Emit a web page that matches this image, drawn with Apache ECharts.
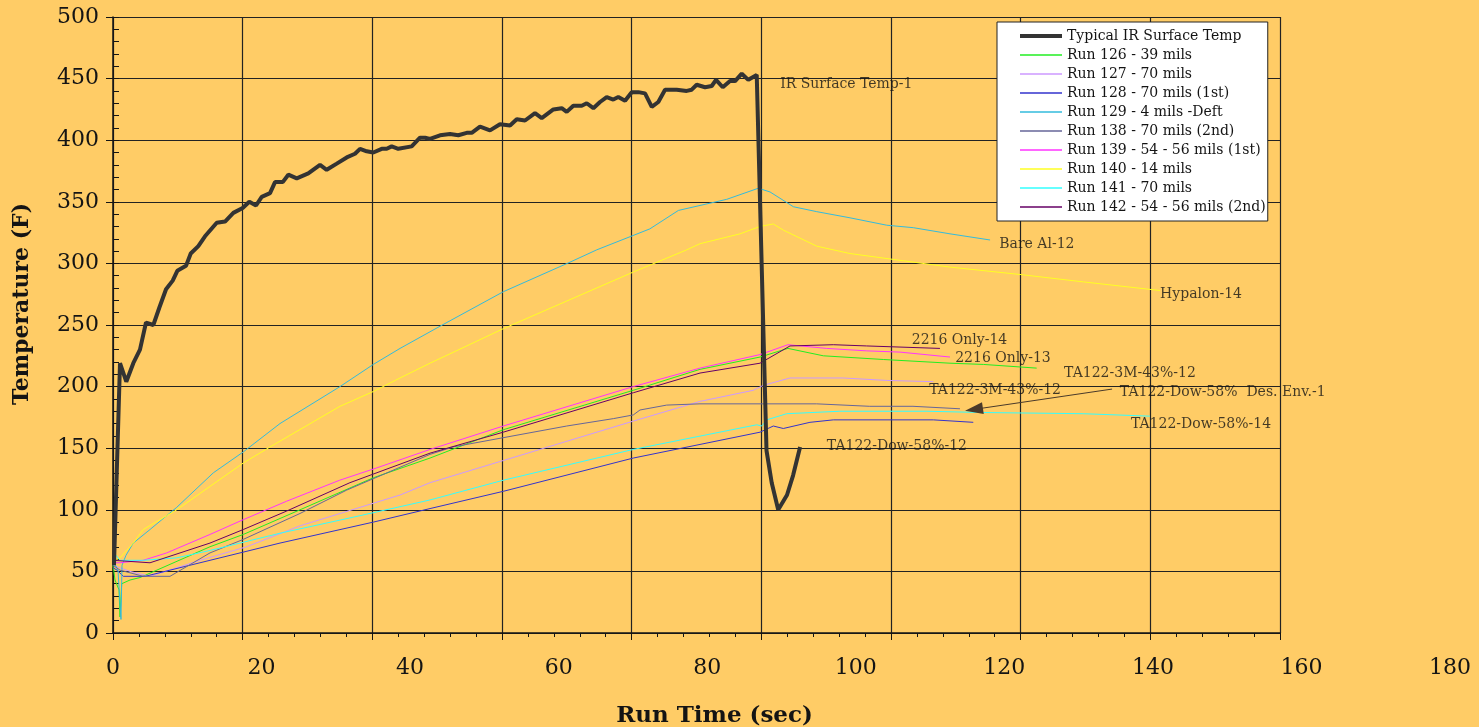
<!DOCTYPE html>
<html>
<head>
<meta charset="utf-8">
<script src="https://cdn.jsdelivr.net/npm/echarts@6/dist/echarts.min.js"></script>
<style>
  html, body { margin: 0; padding: 0; background: #ffcc66; }
  #chart { width: 1479px; height: 727px; }
</style>
</head>
<body>
<div id="chart"></div>
<script>
// [run time (sec), temperature (F)]
const irTemp = [[0.15,55],[1.08,219],[2.05,204],[3.13,219],[4.16,230],[5.09,252],[6.22,250],[7.14,264],[8.18,279],[9.21,286],[9.92,294],[11.26,298],[11.99,308],[13.16,314],[14.19,322],[16.0,333],[17.28,334],[18.56,341],[20.0,345],[21.02,350],[22.06,347],[22.94,354],[24.22,357],[24.99,366],[26.18,366],[27.04,372],[28.34,369],[30.12,373],[31.93,380],[32.96,376],[34.51,381],[36.05,386],[37.33,389],[38.1,393],[39.13,391],[40.15,390],[41.45,393],[42.22,393],[42.99,395],[44.0,393],[46.07,395],[47.35,402],[48.13,402],[48.9,401],[50.44,404],[51.98,405],[53.26,404],[54.56,406],[55.33,406],[56.61,411],[58.15,408],[59.69,413],[61.24,412],[62.27,417],[63.55,416],[65.09,422],[66.13,418],[67.92,425],[69.21,426],[69.98,423],[71.0,428],[72.3,428],[73.07,430],[74.09,426],[75.12,431],[76.15,435],[77.17,433],[77.94,435],[78.98,432],[80.01,439],[81.03,439],[82.06,438],[83.1,427],[84.11,431],[85.15,441],[86.95,441],[88.49,440],[89.26,441],[90.03,445],[91.32,443],[92.35,444],[93.01,449],[94.05,443],[95.17,448],[95.95,448],[96.98,454],[97.99,449],[99.29,453],[100.8,148],[101.6,122],[102.6,100],[103.96,112],[104.9,128],[105.98,151]];
const run126 = [[0,55],[0.31,43],[0.93,35],[1.08,13],[1.34,40],[2.62,43],[4.16,45],[14.96,70],[20.1,80],[28.84,100],[40.15,126],[48.9,142],[60.2,165],[80.25,197],[90.54,214],[99.8,224],[104.11,231],[109.56,225],[118.81,222],[129.1,219],[134.24,218],[142.47,215]];
const run127 = [[0,55],[2.62,50],[5.71,46],[13.42,59],[20.62,70],[28.84,87],[44.27,112],[48.9,122],[60.2,140],[80.25,172],[87.96,184],[90.54,188],[98.76,197],[100.3,201],[104.42,207],[112.64,207],[119.34,205],[126.53,204]];
const run128 = [[0,53],[0.62,51],[1.59,46],[4.94,46],[13.42,57],[25.76,73],[40.15,90],[48.9,101],[60.2,115],[80.25,142],[99.8,163],[101.85,168],[103.39,166],[107.5,171],[111.1,173],[126.53,173],[132.69,171]];
const run129 = [[0,59],[0.77,51],[1.23,11],[1.39,55],[2.0,63],[3.13,73],[5.71,84],[9.83,102],[15.47,130],[20.1,147],[25.76,170],[35.01,200],[40.15,218],[44.27,231],[50.44,249],[60.2,277],[70.49,301],[74.61,311],[82.8,328],[87.21,343],[94.66,352],[99.54,361],[101.34,358],[104.94,346],[108.54,342],[113.68,337],[119.34,331],[123.44,329],[129.1,324],[135.28,319]];
const run138 = [[0,55],[1.08,51],[4.67,46],[8.79,46],[14.96,65],[20.1,76],[28.84,97],[36.05,116],[48.9,145],[52.44,151],[61.7,160],[69.98,168],[77.17,174],[80.25,177],[81.28,181],[85.4,185],[90.54,186],[99.8,186],[108.54,186],[116.72,184],[123.39,184],[130.64,182]];
const run139 = [[0,57],[1.08,57],[4.67,59],[8.28,65],[14.96,80],[20.1,92],[26.79,107],[34.96,124],[40.67,134],[48.9,149],[60.2,168],[80.25,200],[90.54,215],[99.8,226],[104.11,234],[110.08,231],[116.25,229],[121.39,228],[129.1,224]];
const run140 = [[0,58],[1.08,61],[3.13,73],[4.67,84],[9.83,100],[20.1,138],[24.22,151],[35.01,184],[40.15,196],[44.27,207],[48.9,219],[60.2,247],[80.26,293],[88.49,311],[90.54,316],[96.71,324],[99.8,330],[101.85,332],[103.39,327],[108.54,314],[113.68,308],[129.1,297],[139.9,291],[149.67,285],[161.5,278]];
const run141 = [[0,55],[0.46,63],[1.08,59],[4.67,59],[9.83,61],[14.96,67],[25.76,81],[37.06,94],[48.9,108],[60.2,124],[80.25,149],[99.29,169],[100.06,168],[100.83,173],[103.91,178],[112.08,180],[125.51,180],[133.73,179],[149.66,178],[159.95,176]];
const run142 = [[0,59],[5.71,57],[14.96,73],[20.1,84],[26.79,99],[36.54,122],[48.9,146],[60.2,163],[80.25,195],[90.54,211],[99.8,219],[104.42,233],[111.1,234],[116.25,233],[127.55,231]];

const seriesNames = ['Typical IR Surface Temp', 'Run 126 - 39 mils', 'Run 127 - 70 mils', 'Run 128 - 70 mils (1st)', 'Run 129 - 4 mils -Deft', 'Run 138 - 70 mils (2nd)', 'Run 139 - 54 - 56 mils (1st)', 'Run 140 - 14 mils', 'Run 141 - 70 mils', 'Run 142 - 54 - 56 mils (2nd)'];
const seriesData = [irTemp, run126, run127, run128, run129, run138, run139, run140, run141, run142];
const seriesColors = ['#333333', '#22ee22', '#cc99ff', '#3333cc', '#33bbdd', '#666699', '#ff33ff', '#ffff22', '#33ffff', '#660066'];

// text labels on the plot: [sec, temp, text, visible width]
const notes = [
  [102.9, 445.5, 'IR Surface Temp-13', 135],
  [136.7, 315.5, 'Bare Al-129', 82],
  [161.5, 275, 'Hypalon-140', 84],
  [123.2, 237.5, '2216 Only-142', 98],
  [129.9, 223, '2216 Only-139', 98],
  [146.7, 211, 'TA122-3M-43%-126', 136],
  [125.9, 197, 'TA122-3M-43%-127', 135],
  [155.3, 195.5, 'TA122-Dow-58%  Des. Env.-138', 215],
  [157.0, 169.5, 'TA122-Dow-58%-141', 143],
  [110.1, 151.5, 'TA122-Dow-58%-128', 143]
];
const arrowFrom = [154.1, 198];
const arrowTo = [132.8, 181.5];

const xTicks = { min: 0, max: 180, step: 20 };
const yTicks = { min: 0, max: 500, step: 50 };

const serif = 'DejaVu Serif';
const ink = '#141414';

const chart = echarts.init(document.getElementById('chart'));

const lineSeries = seriesData.map((d, i) => ({
  name: seriesNames[i],
  type: 'line',
  data: d,
  showSymbol: false,
  symbol: 'none',
  smooth: false,
  z: i === 0 ? 5 : 3,
  color: seriesColors[i],
  lineStyle: { width: i === 0 ? 4 : 1, color: seriesColors[i] },
  animation: false
}));

// legend swatch: a plain bar, thick for the IR trace
const legendItems = seriesNames.map((name, i) => ({
  name: name,
  icon: i === 0 ? 'path://M0,0L42,0L42,4L0,4Z' : 'path://M0,0L42,0L42,1.6L0,1.6Z'
}));

const noteSeries = {
  type: 'scatter',
  name: 'notes',
  symbolSize: 0,
  z: 6,
  data: notes.map(n => ({
    value: [n[0], n[1]],
    label: {
      show: true, position: 'right', distance: 0,
      formatter: n[2], width: n[3], overflow: 'truncate', ellipsis: '',
      fontFamily: serif, fontSize: 14, color: ink
    }
  })),
  markLine: {
    silent: true,
    symbol: ['none', 'triangle'],
    symbolSize: [12, 18],
    label: { show: false },
    lineStyle: { color: '#4a3a2a', width: 1, type: 'solid' },
    data: [[{ coord: arrowFrom }, { coord: arrowTo }]]
  },
  animation: false
};

chart.setOption({
  backgroundColor: '#ffcc66',
  animation: false,
  textStyle: { fontFamily: serif },
  legend: {
    data: legendItems,
    orient: 'vertical',
    left: 997,
    top: 22,
    backgroundColor: '#ffffff',
    borderColor: '#222222',
    borderWidth: 1,
    borderRadius: 0,
    padding: [7, 2, 7, 23],
    itemWidth: 42,
    itemHeight: 14,
    itemGap: 5,
    itemStyle: { borderWidth: 0 },
    textStyle: { fontFamily: serif, fontSize: 14, color: ink, lineHeight: 14 }
  },
  grid: [
    { left: 113, right: 199, top: 17, bottom: 94, outerBoundsMode: 'none' },
    { left: 113, right: 29, top: 17, bottom: 94, outerBoundsMode: 'none' }
  ],
  xAxis: [
    {
      type: 'value', gridIndex: 0, min: xTicks.min, max: xTicks.max, interval: xTicks.step,
      axisLine: { show: true, lineStyle: { color: ink, width: 1.5 } },
      axisTick: { show: true, inside: false, length: 7, lineStyle: { color: ink } },
      axisLabel: { show: false },
      splitLine: { show: true, lineStyle: { color: '#222222', width: 1.2 } },
      name: 'Run Time (sec)', nameLocation: 'middle', nameGap: 72,
      nameTextStyle: { fontFamily: serif, fontSize: 23, fontWeight: 'bold', color: ink, padding: [0, 0, 0, 36] }
    },
    {
      type: 'value', gridIndex: 0, min: xTicks.min, max: xTicks.max, interval: 4,
      axisLine: { show: false },
      axisTick: { show: true, inside: true, length: 4, lineStyle: { color: ink } },
      axisLabel: { show: false },
      splitLine: { show: false }
    },
    {
      type: 'value', gridIndex: 1, min: xTicks.min, max: xTicks.max, interval: xTicks.step,
      axisLine: { show: false },
      axisTick: { show: false },
      splitLine: { show: false },
      axisLabel: { show: true, margin: 24, fontFamily: serif, fontSize: 22, color: ink }
    }
  ],
  yAxis: [
    {
      type: 'value', gridIndex: 0, min: yTicks.min, max: yTicks.max, interval: yTicks.step,
      axisLine: { show: true, lineStyle: { color: ink, width: 1.5 } },
      axisTick: { show: true, inside: false, length: 7, lineStyle: { color: ink } },
      axisLabel: { show: true, margin: 14, fontFamily: serif, fontSize: 22, color: ink },
      splitLine: { show: true, lineStyle: { color: '#222222', width: 1.2 } },
      name: 'Temperature (F)', nameLocation: 'middle', nameGap: 80, nameRotate: 90,
      nameTextStyle: { fontFamily: serif, fontSize: 22, fontWeight: 'bold', color: ink, padding: [0, 0, 0, 42] }
    },
    {
      type: 'value', gridIndex: 0, position: 'left', min: yTicks.min, max: yTicks.max, interval: 10,
      axisLine: { show: false },
      axisTick: { show: true, inside: true, length: 6, lineStyle: { color: ink } },
      axisLabel: { show: false },
      splitLine: { show: false }
    },
    { type: 'value', gridIndex: 1, min: 0, max: 500, show: false }
  ],
  series: lineSeries.concat([noteSeries])
});
</script>
</body>
</html>
